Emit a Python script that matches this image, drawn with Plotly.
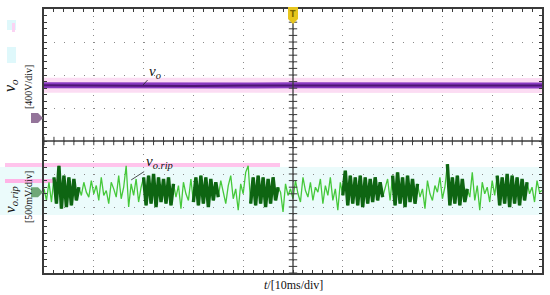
import numpy as np
import plotly.graph_objects as go

# 示波器截图：横轴 10 格 (10ms/div)，纵轴 8 格；数值单位都是“格”

# vo（紫色，400V/div），基本是一条平线
vo_t = list(range(11))
vo_v = [5.69, 5.68, 5.69, 5.67, 5.68, 5.69, 5.68, 5.68, 5.69, 5.68, 5.68]

# vo.rip（绿色，500mV/div），每 0.05 格一个点，肉眼读出来的
rip_t = np.round(np.arange(201) * 0.05, 2)
rip_v = [
    2.55, 2.2, 2.75, 2.15, 2.9, 2.1, 3.25, 1.95, 2.95, 2.0,
    2.9, 2.05, 2.85, 2.2, 2.6, 2.35, 2.75, 2.45, 2.3, 2.8,
    2.4, 2.65, 2.2, 2.9, 2.35, 2.5, 2.1, 2.75, 2.55, 2.3,
    2.95, 2.25, 2.6, 3.25, 2.0, 2.7, 2.35, 2.85, 2.15, 2.6,
    2.9, 2.05, 2.95, 2.1, 3.0, 2.0, 2.9, 2.15, 2.85, 2.1,
    2.9, 2.05, 2.7, 2.3, 2.65, 1.95, 2.75, 2.4, 2.2, 2.85,
    2.15, 2.9, 2.05, 2.95, 2.1, 2.9, 2.0, 2.85, 2.2, 2.75,
    2.3, 2.8, 2.45, 2.1, 2.65, 2.95, 2.25, 2.55, 1.9, 2.7,
    2.4, 3.05, 3.25, 2.1, 2.9, 2.05, 2.95, 2.1, 2.9, 2.0,
    2.85, 2.1, 2.9, 2.2, 2.6, 2.45, 1.85, 2.7, 2.35, 2.55,
    2.25, 2.8, 2.4, 2.15, 2.9, 2.5, 2.3, 2.75, 2.2, 2.6,
    2.45, 2.85, 2.1, 2.65, 2.35, 2.9, 2.2, 2.55, 1.9, 2.75,
    2.35, 3.1, 2.05, 2.95, 2.1, 2.9, 2.05, 2.95, 2.0, 2.9,
    2.1, 2.85, 2.15, 2.9, 2.2, 2.75, 2.3, 2.6, 2.85, 2.2,
    2.95, 2.05, 3.05, 2.1, 2.9, 2.0, 2.95, 2.15, 2.85, 2.1,
    2.7, 2.3, 2.55, 1.95, 2.8, 2.4, 2.2, 2.65, 2.45, 2.9,
    2.25, 2.6, 3.3, 2.05, 2.9, 2.1, 2.95, 2.05, 2.85, 2.15,
    2.55, 2.3, 3.05, 2.2, 2.65, 1.9, 2.75, 2.4, 2.6, 2.15,
    2.8, 2.35, 2.95, 2.05, 2.9, 2.1, 3.0, 2.0, 2.95, 2.1,
    2.9, 2.05, 2.85, 2.2, 2.75, 2.4, 2.6, 2.15, 2.8, 2.45,
    2.5,
]

# 绿色波形里颜色发暗的密集段（起止，单位：格）
dense_spans = [(0.2, 0.7), (2.0, 2.6), (3.0, 3.5), (4.15, 4.7),
               (6.0, 6.8), (7.0, 7.5), (8.1, 8.5), (9.1, 9.7)]

# 通道零点标记 (CH1 紫, CH2 绿) 和触发位置
gnd_levels = [4.70, 2.45]
gnd_colors = ["#94749a", "#6fa877"]
trig_t = 5

FONT = "Liberation Serif"
FRAME = "#3a3a3a"
W, H = 550, 295
PX0, PX1, PY0, PY1 = 44, 542, 9, 273   # 网格区域的像素边界


def px_x(t):
    return PX0 + t * (PX1 - PX0) / 10


def px_y(v):
    return PY1 - v * (PY1 - PY0) / 8


def pp(x, y):
    """像素 -> paper 坐标"""
    return x / W, (H - y) / H


fig = go.Figure()

# 紫线外面那圈粉色光晕
fig.add_trace(go.Scatter(x=vo_t, y=vo_v, mode="lines", line=dict(color="#fcdcf3", width=15)))

# 绿色纹波：浅绿全程 + 深绿密集段
fig.add_trace(go.Scatter(x=rip_t, y=rip_v, mode="lines", line=dict(color="#45c83a", width=1.3)))
dark_v = [v if any(a <= t <= b for a, b in dense_spans) else None for t, v in zip(rip_t, rip_v)]
fig.add_trace(go.Scatter(x=rip_t, y=dark_v, mode="lines", line=dict(color="#0e6512", width=3.4)))

# 紫色 vo
fig.add_trace(go.Scatter(x=vo_t, y=vo_v, mode="lines", line=dict(color="#8a3ac2", width=6)))
fig.add_trace(go.Scatter(x=vo_t, y=vo_v, mode="lines", line=dict(color="#4d1673", width=2)))

# 中心十字线上的小刻度
minor = np.round(np.arange(51) * 0.2, 1)
fig.add_trace(
    go.Scatter(
        x=minor, y=[4] * len(minor), mode="markers",
        marker=dict(symbol="line-ns", size=6, line=dict(color=FRAME, width=1)),
    )
)
vminor = np.round(np.arange(41) * 0.2, 1)
fig.add_trace(
    go.Scatter(
        x=[trig_t] * len(vminor), y=vminor, mode="markers",
        marker=dict(symbol="line-ew", size=6, line=dict(color=FRAME, width=1)),
    )
)


def path(points):
    pts = [pp(x, y) for x, y in points]
    return "M " + " L ".join(f"{x:.5f},{y:.5f}" for x, y in pts) + " Z"


shapes = [
    # 截图里的青色/粉色残影
    dict(type="rect", xref="paper", yref="paper", x0=pp(0, 0)[0], x1=pp(PX1, 0)[0],
         y0=pp(0, 215)[1], y1=pp(0, 167)[1], fillcolor="#ebfbfb", line=dict(width=0), layer="below"),
    dict(type="rect", xref="paper", yref="paper", x0=pp(5, 0)[0], x1=pp(280, 0)[0],
         y0=pp(0, 167)[1], y1=pp(0, 163)[1], fillcolor="#ffc4ec", line=dict(width=0), layer="below"),
    dict(type="rect", xref="paper", yref="paper", x0=pp(5, 0)[0], x1=pp(60, 0)[0],
         y0=pp(0, 183)[1], y1=pp(0, 179)[1], fillcolor="#ffb3e6", line=dict(width=0), layer="below"),
    dict(type="rect", xref="paper", yref="paper", x0=pp(7, 0)[0], x1=pp(16, 0)[0],
         y0=pp(0, 30)[1], y1=pp(0, 20)[1], fillcolor="#dff8fb", line=dict(width=0)),
    dict(type="rect", xref="paper", yref="paper", x0=pp(7, 0)[0], x1=pp(16, 0)[0],
         y0=pp(0, 63)[1], y1=pp(0, 47)[1], fillcolor="#dff8fb", line=dict(width=0)),
    dict(type="rect", xref="paper", yref="paper", x0=pp(12, 0)[0], x1=pp(15, 0)[0],
         y0=pp(0, 32)[1], y1=pp(0, 23)[1], fillcolor="#fbd3f3", line=dict(width=0)),
    # 中心十字线
    dict(type="line", xref="x", yref="y", x0=0, x1=10, y0=4, y1=4, line=dict(color=FRAME, width=1.3)),
    dict(type="line", xref="x", yref="y", x0=trig_t, x1=trig_t, y0=0, y1=8, line=dict(color=FRAME, width=1.3)),
]

# 零点标记（左侧小箭头牌）
for lvl, col in zip(gnd_levels, gnd_colors):
    yc = px_y(lvl)
    shapes.append(dict(
        type="path", xref="paper", yref="paper", fillcolor=col, line=dict(width=0),
        path=path([(31, yc - 5), (38, yc - 5), (43, yc), (38, yc + 5), (31, yc + 5)]),
    ))

# 触发标记（顶部黄色 T）
tx = px_x(trig_t)
shapes.append(dict(
    type="path", xref="paper", yref="paper", fillcolor="#e6c51e", line=dict(width=0),
    path=path([(tx - 5, 7), (tx + 5, 7), (tx + 5, 19), (tx, 24), (tx - 5, 19)]),
))

ax_, ay_ = pp(tx, 14)
annotations = [
    dict(x=ax_, y=ay_, xref="paper", yref="paper", showarrow=False, text="<b>T</b>",
         xanchor="center", yanchor="middle",
         font=dict(family="DejaVu Sans", size=8, color="#7a6400")),
    dict(x=1.99, y=5.70, xref="x", yref="y", ax=12, ay=-13, showarrow=True,
         arrowhead=0, arrowwidth=0.8, arrowcolor="#222",
         text="<i>v<sub>o</sub></i>", font=dict(family=FONT, size=15, color="#111")),
    dict(x=1.75, y=2.82, xref="x", yref="y", ax=28, ay=-18, showarrow=True,
         arrowhead=0, arrowwidth=0.8, arrowcolor="#222",
         text="<i>v<sub>o.rip</sub></i>", font=dict(family=FONT, size=15, color="#111")),
]

labels = [
    ("<i>v<sub>o</sub></i>", 11, 86, 16, -90),
    ("[400V/div]", 28, 87, 10, -90),
    ("<i>v<sub>o.rip</sub></i>", 11, 200, 15, -90),
    ("[500mV/div]", 28, 197, 10, -90),
    ("<i>t</i>/[10ms/div]", 293, 285, 12, 0),
]
for text, x, y, size, ang in labels:
    lx, ly = pp(x, y)
    annotations.append(dict(
        x=lx, y=ly, xref="paper", yref="paper", showarrow=False, textangle=ang,
        xanchor="center", yanchor="middle", text=text,
        font=dict(family=FONT, size=size, color="#111"),
    ))

axis_common = dict(
    showticklabels=False, zeroline=False, showgrid=True, gridcolor="#8a8a8a", gridwidth=1,
    showline=True, linecolor=FRAME, linewidth=1.5, mirror="allticks",
    ticks="inside", ticklen=3, tickcolor=FRAME, tickwidth=1, tick0=0, dtick=1,
    minor=dict(ticks="inside", dtick=0.2, ticklen=3, tickcolor=FRAME, showgrid=False),
    fixedrange=True, automargin=False,
)

fig.update_layout(
    width=W,
    height=H,
    margin=dict(l=0, r=0, t=0, b=0),
    paper_bgcolor="white",
    plot_bgcolor="white",
    showlegend=False,
    xaxis=dict(range=[0, 10], domain=[PX0 / W, PX1 / W], griddash="1px,5.6px", **axis_common),
    yaxis=dict(range=[0, 8], domain=[(H - PY1) / H, (H - PY0) / H], griddash="1px,8.96px", **axis_common),
    shapes=shapes,
    annotations=annotations,
)

# 页面 body 默认有 8px 外边距，去掉它，图才能正好贴满窗口
fig.write_html(
    "out.html",
    config={"displayModeBar": False},
    post_script="document.body.style.margin='0px';",
)
